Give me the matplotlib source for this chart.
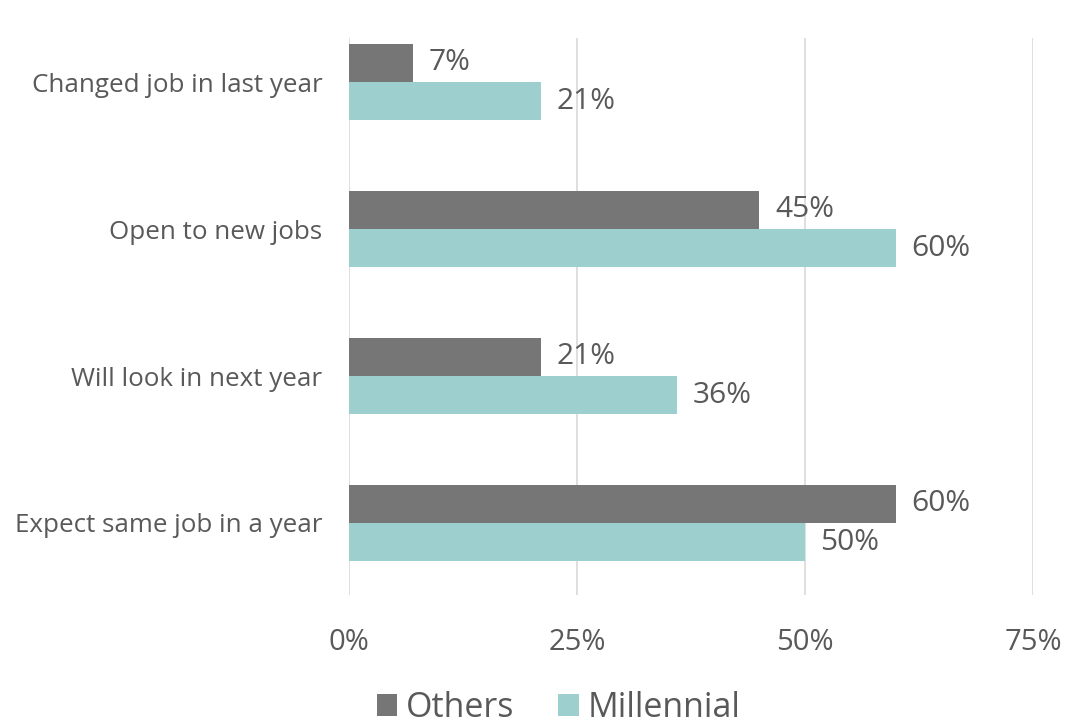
import matplotlib.pyplot as plt
import numpy as np

plt.rcParams['font.family'] = ['Open Sans', 'DejaVu Sans']

# data
categories = ["Expect same job in a year", "Will look in next year",
              "Open to new jobs", "Changed job in last year"]
others = [60, 21, 45, 7]
millennial = [50, 36, 60, 21]
xticks = [0, 25, 50, 75]

c_others = '#767676'
c_mill = '#9dcfcf'
txt = '#595959'

fig = plt.figure(figsize=(10.91, 7.23), dpi=100)
ax = fig.add_axes([349 / 1091, 1 - 595 / 723, (1033 - 349) / 1091, (595 - 38) / 723])

y = np.arange(len(categories))
h = 0.26
b1 = ax.barh(y + h / 2, others, height=h, color=c_others, label='Others')
b2 = ax.barh(y - h / 2, millennial, height=h, color=c_mill, label='Millennial')

for bars, vals in ((b1, others), (b2, millennial)):
    for bar, v in zip(bars, vals):
        ax.text(v + 1.7, bar.get_y() + bar.get_height() / 2, f"{v}%",
                va='center', ha='left', fontsize=21.5, color=txt)

ax.set_xlim(0, 75)
ax.set_ylim(-0.49, 3.30)
ax.set_xticks(xticks)
ax.set_xticklabels([f"{t}%" for t in xticks], fontsize=21, color=txt)
ax.set_yticks(y)
ax.set_yticklabels(categories, fontsize=18.7, color=txt)
ax.tick_params(axis='both', length=0)
ax.tick_params(axis='x', pad=24)
ax.tick_params(axis='y', pad=19)
ax.grid(axis='x', color='#d9d9d9', linewidth=1.2)
ax.set_axisbelow(True)
for s in ax.spines.values():
    s.set_visible(False)

fig.legend(handles=[b1, b2], loc='center', bbox_to_anchor=(0.512, 1 - 708 / 723),
           ncol=2, frameon=False, fontsize=24.5, labelcolor=txt,
           handlelength=0.6, handleheight=0.6, handletextpad=0.25, columnspacing=1.3)

fig.savefig('out.png', dpi=100)
